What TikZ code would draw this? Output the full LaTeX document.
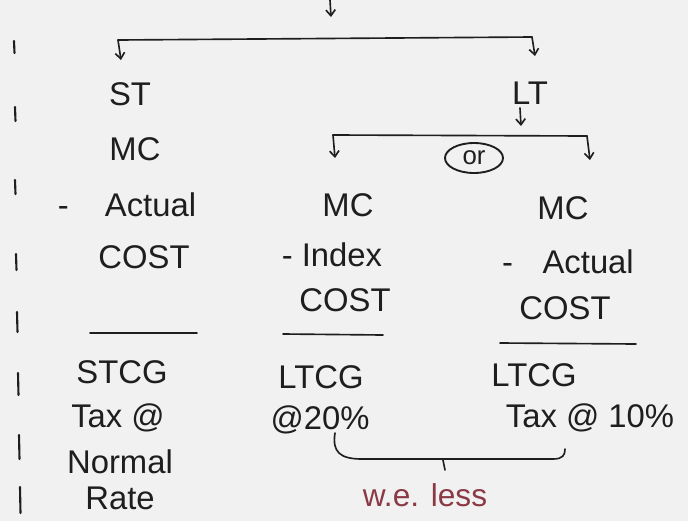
\documentclass[tikz,border=0pt]{standalone}
\usepackage{fontspec}
\setmainfont{Liberation Sans}
\usetikzlibrary{arrows.meta,shapes.geometric}
\definecolor{ink}{HTML}{1E1E1E}
\definecolor{paper}{HTML}{F1F1F1}
\definecolor{redink}{HTML}{8B3A45}

\begin{document}
\begin{tikzpicture}[x=0.03cm,y=-0.03cm,
  hand/.style={font=\fontsize{28}{32}\selectfont, text=ink, inner sep=0pt},
  note/.style={font=\fontsize{27}{32}\selectfont, text=redink, inner sep=0pt},
  wire/.style={draw=ink, line width=1.4pt, line cap=round},
  drop/.style={wire, -{Straight Barb[length=5pt,width=8pt]}},
  orbox/.style={ellipse, draw=ink, line width=1.6pt, inner sep=0pt,
                minimum width=1.74cm, minimum height=0.9cm,
                font=\fontsize{22}{26}\selectfont, text=ink},
]
\fill[paper] (0,0) rectangle (688,521);
\useasboundingbox (0,0) rectangle (688,521);

% margin ticks
\foreach \y/\h/\x in {47/6/14, 114/7/15, 187/7/15, 262/8/16, 322/10/17, 384/11/18, 447/12/19, 500/13/20}
  \draw[wire, line width=1.8pt] (\x,\y-\h) -- (\x+0.5,\y+\h);

% first split: ST / LT
\coordinate (top) at (330,0);
\coordinate (topend) at (331,17);
\coordinate (barL) at (118,40);
\coordinate (barR) at (532,37);
\coordinate (stIn) at (121,60);
\coordinate (ltIn) at (535,56);
\draw[drop] (top) -- (topend);
\draw[wire] (barL) -- (barR);
\draw[drop] (barL) -- (stIn);
\draw[drop] (barR) -- (ltIn);

\node[hand] (st) at (130,94) {ST};
\node[hand] (lt) at (530,93) {LT};

% second split under LT
\coordinate (ltOut) at (520,108);
\coordinate (ltEnd) at (521,126);
\coordinate (bar2L) at (333,135);
\coordinate (bar2R) at (587,136);
\coordinate (midIn) at (335,158);
\coordinate (rightIn) at (590,160);
\draw[drop] (ltOut) -- (ltEnd);
\draw[wire] (bar2L) -- (bar2R);
\draw[drop] (bar2L) -- (midIn);
\draw[drop] (bar2R) -- (rightIn);
\node[orbox] (orN) at (474,158) {or};

% left column
\node[hand] (mcL) at (135,149) {MC};
\node[hand] (actL) at (127,205) {-\hspace{1.1em}Actual};
\node[hand] (costL) at (144,257) {COST};
\draw[wire] (90,333) -- (197,333);
\node[hand] (stcg) at (122,372) {STCG};
\node[hand] (taxL) at (118,418) {Tax @};
\node[hand] (normal) at (120,462) {Normal};
\node[hand] (rate) at (120,498) {Rate};

% middle column
\node[hand] (mcM) at (348,205) {MC};
\node[hand] (indexM) at (332,255) {- Index};
\node[hand] (costM) at (345,300) {COST};
\draw[wire] (283,334) -- (383,335);
\node[hand] (ltcgM) at (321,377) {LTCG};
\node[hand] (rateM) at (320,420) {@20\%};

% right column
\node[hand] (mcR) at (563,208) {MC};
\node[hand] (actR) at (568,262) {-\hspace{0.9em}Actual};
\node[hand] (costR) at (565,308) {COST};
\draw[wire] (500,343) -- (636,344);
\node[hand] (ltcgR) at (534,375) {LTCG};
\node[hand] (taxR) at (590,418) {Tax @ 10\%};

% brace joining both LT options
\coordinate (brL) at (335,433);
\coordinate (brR) at (565,449);
\coordinate (brMid) at (443,460);
\coordinate (brTip) at (445,470);
\draw[wire] (brL) .. controls (332,452) and (340,459) .. (362,459)
  -- (553,459) .. controls (563,459) and (565,455) .. (brR);
\draw[wire] (brMid) -- (brTip);
\node[note] (weless) at (425,495) {w.e. less};
\end{tikzpicture}
\end{document}
